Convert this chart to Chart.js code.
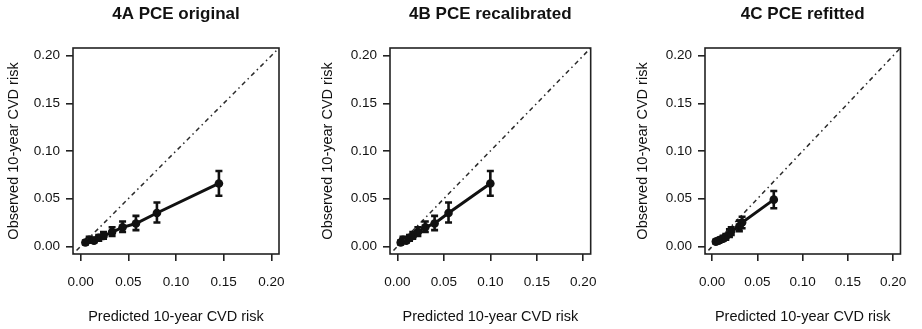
<!DOCTYPE html>
<html>
<head>
<meta charset="utf-8">
<script src="https://cdn.jsdelivr.net/npm/chart.js@4.4.1/dist/chart.umd.min.js"></script>
<style>
  html, body { margin: 0; padding: 0; background: #fff; }
  .panel { position: absolute; top: 0; height: 329px; }
</style>
</head>
<body>
<div class="panel" style="left:0px;width:300px"><canvas id="cA"></canvas></div>
<div class="panel" style="left:310px;width:300px"><canvas id="cB"></canvas></div>
<div class="panel" style="left:620px;width:300px"><canvas id="cC"></canvas></div>
<script>
// shared axis
const tickValues = [0, 0.05, 0.10, 0.15, 0.20];
const axisRange = [-0.008, 0.208];

// 4A PCE original
const predA = [0.005, 0.009, 0.014, 0.019, 0.024, 0.033, 0.044, 0.058, 0.080, 0.145];
const obsA  = [0.004, 0.007, 0.006, 0.009, 0.011, 0.015, 0.020, 0.024, 0.035, 0.066];
const loA   = [0.002, 0.004, 0.004, 0.006, 0.008, 0.011, 0.015, 0.017, 0.025, 0.053];
const hiA   = [0.006, 0.010, 0.009, 0.012, 0.015, 0.020, 0.026, 0.032, 0.046, 0.079];

// 4B PCE recalibrated
const predB = [0.0035, 0.006, 0.0095, 0.013, 0.0165, 0.022, 0.030, 0.040, 0.055, 0.100];
const obsB  = [0.004, 0.007, 0.006, 0.009, 0.011, 0.015, 0.020, 0.024, 0.035, 0.066];
const loB   = [0.002, 0.004, 0.004, 0.006, 0.008, 0.011, 0.015, 0.017, 0.025, 0.053];
const hiB   = [0.006, 0.010, 0.009, 0.012, 0.015, 0.020, 0.026, 0.032, 0.046, 0.079];

// 4C PCE refitted
const predC = [0.004, 0.007, 0.009, 0.012, 0.015, 0.019, 0.021, 0.030, 0.033, 0.068];
const obsC  = [0.005, 0.006, 0.007, 0.008, 0.010, 0.014, 0.016, 0.021, 0.025, 0.049];
const loC   = [0.003, 0.004, 0.005, 0.006, 0.007, 0.010, 0.012, 0.016, 0.019, 0.040];
const hiC   = [0.007, 0.008, 0.009, 0.011, 0.013, 0.018, 0.020, 0.027, 0.031, 0.058];

const FONT = '"Liberation Sans", Arial, Helvetica, sans-serif';
const INK = '#111';

// error bars + plot frame
const frameBars = {
  id: 'frameBars',
  afterDatasetsDraw(chart, args, opts) {
    const { ctx, chartArea: a, scales: { x, y } } = chart;
    const pts = chart.data.datasets[1].data;
    ctx.save();
    ctx.strokeStyle = INK;
    ctx.lineWidth = 2.6;
    pts.forEach((p, i) => {
      const px = x.getPixelForValue(p.x);
      const y1 = y.getPixelForValue(opts.lo[i]);
      const y2 = y.getPixelForValue(opts.hi[i]);
      ctx.beginPath();
      ctx.moveTo(px, y1); ctx.lineTo(px, y2);
      ctx.moveTo(px - 3.5, y1); ctx.lineTo(px + 3.5, y1);
      ctx.moveTo(px - 3.5, y2); ctx.lineTo(px + 3.5, y2);
      ctx.stroke();
    });
    ctx.lineWidth = 1.6;
    ctx.strokeStyle = '#222';
    ctx.strokeRect(a.left, a.top, a.width, a.height);
    ctx.restore();
  }
};

function makePanel(id, title, pred, obs, lo, hi, g) {
  new Chart(document.getElementById(id), {
    type: 'line',
    data: {
      datasets: [
        {
          data: axisRange.map(v => ({ x: v, y: v })),
          borderColor: '#2a2a2a',
          borderWidth: 1.5,
          borderDash: [1.5, 3.5, 4.5, 3.5],
          pointRadius: 0,
        },
        {
          data: pred.map((v, i) => ({ x: v, y: obs[i] })),
          borderColor: INK,
          backgroundColor: INK,
          borderWidth: 3,
          pointRadius: 4.3,
          pointBorderWidth: 0,
        },
      ],
    },
    options: {
      responsive: true,
      maintainAspectRatio: false,
      animation: false,
      layout: { padding: { left: 0, right: g.padRight, top: 0, bottom: 0 } },
      plugins: {
        legend: { display: false },
        tooltip: { enabled: false },
        title: {
          display: true, text: title, color: INK, fullSize: false,
          font: { family: FONT, size: 17, weight: 'bold' },
          padding: { top: 3.8, bottom: 23.8 },
        },
        frameBars: { lo, hi },
      },
      scales: {
        x: {
          type: 'linear', min: axisRange[0], max: axisRange[1],
          afterBuildTicks: s => { s.ticks = tickValues.map(v => ({ value: v })); },
          afterFit: s => { s.height = 75; },
          grid: { drawOnChartArea: false, drawTicks: true, tickLength: 7, color: '#222', lineWidth: 1.6 },
          border: { display: false },
          ticks: {
            autoSkip: false, maxRotation: 0, padding: 12.9, color: INK,
            font: { family: FONT, size: 13.5 },
            callback: v => v.toFixed(2),
          },
          title: {
            display: true, text: 'Predicted 10-year CVD risk', color: INK,
            font: { family: FONT, size: 14.5 }, padding: { top: 0, bottom: 3.3 },
          },
        },
        y: {
          type: 'linear', min: axisRange[0], max: axisRange[1],
          afterBuildTicks: s => { s.ticks = tickValues.map(v => ({ value: v })); },
          afterFit: s => { s.width = g.yWidth; },
          grid: { drawOnChartArea: false, drawTicks: true, tickLength: 7, color: '#222', lineWidth: 1.6 },
          border: { display: false },
          ticks: {
            autoSkip: false, padding: 6, color: INK,
            font: { family: FONT, size: 13.5 },
            callback: v => v.toFixed(2),
          },
          title: {
            display: true, text: 'Observed 10-year CVD risk', color: INK,
            font: { family: FONT, size: 14.5 }, padding: { top: g.titlePad, bottom: 0 },
          },
        },
      },
    },
    plugins: [frameBars],
  });
}

makePanel('cA', '4A PCE original', predA, obsA, loA, hiA, { yWidth: 73, padRight: 21, titlePad: 5.3 });
makePanel('cB', '4B PCE recalibrated', predB, obsB, loB, hiB, { yWidth: 80, padRight: 14, titlePad: 9.3 });
makePanel('cC', '4C PCE refitted', predC, obsC, loC, hiC, { yWidth: 85, padRight: 9, titlePad: 14.3 });
</script>
</body>
</html>
